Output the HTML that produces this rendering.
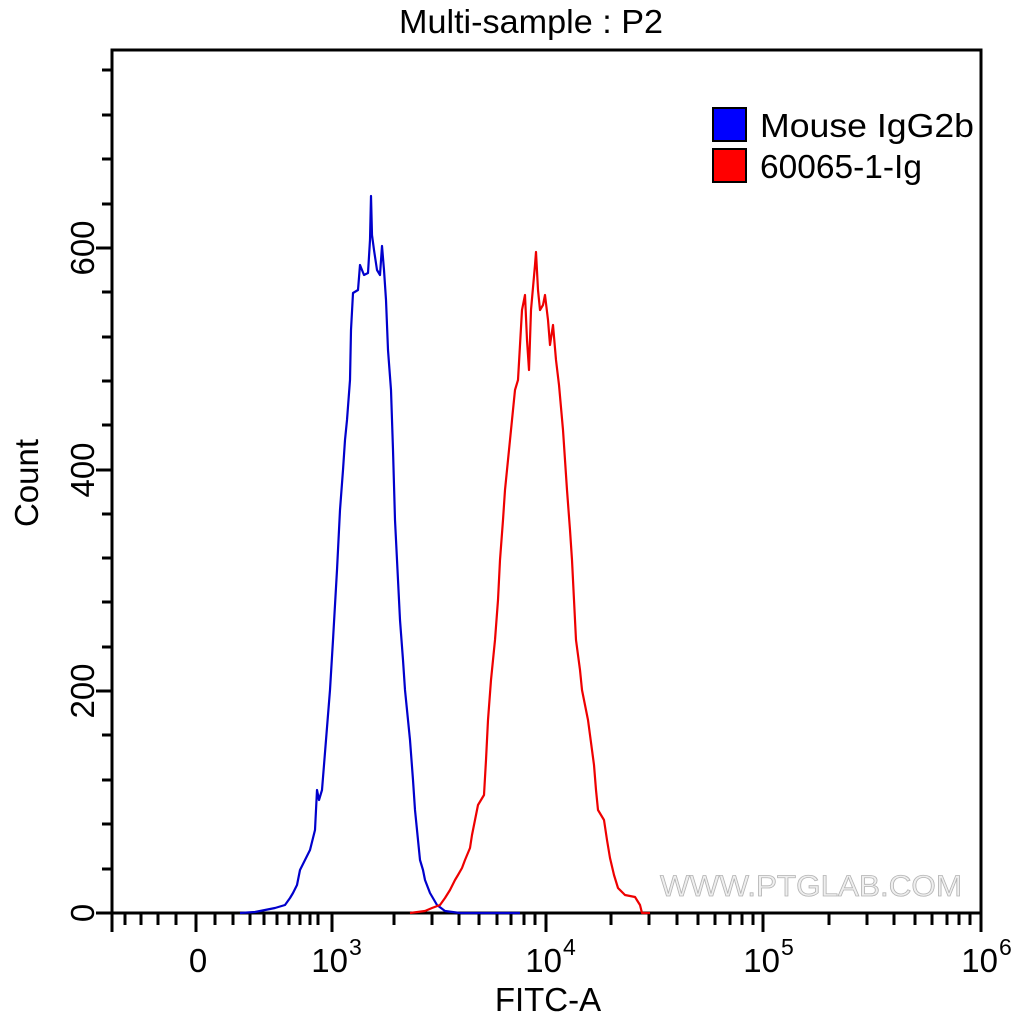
<!DOCTYPE html>
<html><head><meta charset="utf-8"><style>
html,body{margin:0;padding:0;background:#fff;}
svg{display:block;font-family:"Liberation Sans",Arial,sans-serif;}
</style></head><body>
<svg width="1024" height="1019" viewBox="0 0 1024 1019" xmlns="http://www.w3.org/2000/svg">
<rect width="1024" height="1019" fill="#fff"/>
<text x="531" y="33" font-size="33" text-anchor="middle" textLength="264" lengthAdjust="spacingAndGlyphs">Multi-sample : P2</text>
<rect x="112" y="50" width="869" height="863" fill="none" stroke="#000" stroke-width="3"/>
<!-- y ticks -->
<g stroke="#000" stroke-width="3">
<line x1="96" y1="913" x2="112" y2="913"/><line x1="102" y1="869" x2="112" y2="869"/><line x1="102" y1="824" x2="112" y2="824"/><line x1="102" y1="780" x2="112" y2="780"/><line x1="102" y1="735" x2="112" y2="735"/>
<line x1="96" y1="691" x2="112" y2="691"/><line x1="102" y1="647" x2="112" y2="647"/><line x1="102" y1="602" x2="112" y2="602"/><line x1="102" y1="558" x2="112" y2="558"/><line x1="102" y1="514" x2="112" y2="514"/>
<line x1="96" y1="470" x2="112" y2="470"/><line x1="102" y1="425" x2="112" y2="425"/><line x1="102" y1="381" x2="112" y2="381"/><line x1="102" y1="337" x2="112" y2="337"/><line x1="102" y1="292" x2="112" y2="292"/>
<line x1="96" y1="248" x2="112" y2="248"/><line x1="102" y1="204" x2="112" y2="204"/><line x1="102" y1="159" x2="112" y2="159"/><line x1="102" y1="115" x2="112" y2="115"/><line x1="102" y1="70" x2="112" y2="70"/>
</g>
<g font-size="33" text-anchor="middle">
<text transform="translate(94,913) rotate(-90)">0</text>
<text transform="translate(94,691) rotate(-90)">200</text>
<text transform="translate(94,470) rotate(-90)">400</text>
<text transform="translate(94,248) rotate(-90)">600</text>
<text transform="translate(38,483) rotate(-90)">Count</text>
</g>
<!-- x ticks -->
<g stroke="#000" stroke-width="3">
<line x1="112" y1="913" x2="112" y2="932"/><line x1="125" y1="913" x2="125" y2="925"/><line x1="141" y1="913" x2="141" y2="925"/><line x1="158" y1="913" x2="158" y2="925"/><line x1="176" y1="913" x2="176" y2="925"/>
<line x1="196" y1="913" x2="196" y2="932"/><line x1="215" y1="913" x2="215" y2="925"/><line x1="233" y1="913" x2="233" y2="925"/><line x1="250" y1="913" x2="250" y2="925"/><line x1="264" y1="913" x2="264" y2="925"/><line x1="277" y1="913" x2="277" y2="925"/><line x1="289" y1="913" x2="289" y2="925"/><line x1="300" y1="913" x2="300" y2="925"/><line x1="310" y1="913" x2="310" y2="925"/><line x1="318" y1="913" x2="318" y2="925"/>
<line x1="332" y1="913" x2="332" y2="932"/>
<line x1="394" y1="913" x2="394" y2="925"/><line x1="432" y1="913" x2="432" y2="925"/><line x1="459" y1="913" x2="459" y2="925"/><line x1="479" y1="913" x2="479" y2="925"/><line x1="497" y1="913" x2="497" y2="925"/><line x1="511" y1="913" x2="511" y2="925"/><line x1="524" y1="913" x2="524" y2="925"/><line x1="535" y1="913" x2="535" y2="925"/>
<line x1="546" y1="913" x2="546" y2="932"/>
<line x1="611" y1="913" x2="611" y2="925"/><line x1="649" y1="913" x2="649" y2="925"/><line x1="677" y1="913" x2="677" y2="925"/><line x1="698" y1="913" x2="698" y2="925"/><line x1="715" y1="913" x2="715" y2="925"/><line x1="730" y1="913" x2="730" y2="925"/><line x1="742" y1="913" x2="742" y2="925"/><line x1="753" y1="913" x2="753" y2="925"/>
<line x1="763" y1="913" x2="763" y2="932"/>
<line x1="829" y1="913" x2="829" y2="925"/><line x1="867" y1="913" x2="867" y2="925"/><line x1="894" y1="913" x2="894" y2="925"/><line x1="915" y1="913" x2="915" y2="925"/><line x1="932" y1="913" x2="932" y2="925"/><line x1="947" y1="913" x2="947" y2="925"/><line x1="959" y1="913" x2="959" y2="925"/><line x1="970" y1="913" x2="970" y2="925"/>
<line x1="981" y1="913" x2="981" y2="932"/>
</g>
<g font-size="33">
<text x="198" y="972" text-anchor="middle">0</text>
<text x="348" y="972" text-anchor="end">10</text><text x="349" y="955" font-size="23">3</text>
<text x="562" y="972" text-anchor="end">10</text><text x="563" y="955" font-size="23">4</text>
<text x="780" y="972" text-anchor="end">10</text><text x="781" y="955" font-size="23">5</text>
<text x="998" y="972" text-anchor="end">10</text><text x="999" y="955" font-size="23">6</text>
<text x="548" y="1011" text-anchor="middle">FITC-A</text>
</g>
<text x="660" y="896" font-size="30" textLength="302" lengthAdjust="spacingAndGlyphs" fill="#efefef" stroke="#b4b4b4" stroke-width="0.8">WWW.PTGLAB.COM</text>
<!-- curves -->
<polyline fill="none" stroke="#0000cc" stroke-width="2.2" stroke-linejoin="round" points="240,913 255,912 265,910 275,908 285,905 290,898 293,893 297,885 300,870 305,860 310,850 315,830 317,790 319,800 322,790 326,740 330,690 333,640 337,570 340,510 343,470 345,440 347,420 350,380 351,330 353,293 358,290 360,265 364,275 368,273 370,240 371,196 372,235 374,250 377,270 380,275 382,246 384,270 386,300 388,350 391,390 393,450 395,520 398,580 400,620 403,660 405,690 408,720 410,740 413,780 415,810 418,840 420,860 423,870 425,880 430,893 437,905 445,911 460,913 520,913"/>
<polyline fill="none" stroke="#ee0000" stroke-width="2.2" stroke-linejoin="round" points="410,913 425,911 432,908 440,905 445,898 450,890 455,880 458,875 462,868 465,860 470,848 472,835 476,815 478,805 481,800 484,795 486,760 488,720 491,680 495,640 498,600 500,560 503,520 505,490 508,460 510,440 513,410 515,390 518,380 522,310 525,295 527,340 529,370 531,310 535,265 536,252 538,290 540,310 543,305 545,295 548,320 550,345 553,325 556,360 559,385 563,430 567,490 570,530 572,560 574,600 576,640 580,670 582,690 586,710 588,720 592,750 594,765 596,790 598,810 604,820 607,840 610,858 614,875 618,888 625,895 635,897 640,905 642,913 650,913"/>
<!-- legend -->
<rect x="713" y="108" width="33" height="33" fill="#0000ff" stroke="#000" stroke-width="2"/>
<rect x="713" y="149" width="33" height="33" fill="#ff0000" stroke="#000" stroke-width="2"/>
<text x="760" y="137" font-size="33" textLength="214" lengthAdjust="spacingAndGlyphs">Mouse IgG2b</text>
<text x="760" y="178" font-size="33" textLength="162" lengthAdjust="spacingAndGlyphs">60065-1-Ig</text>
</svg>
</body></html>
